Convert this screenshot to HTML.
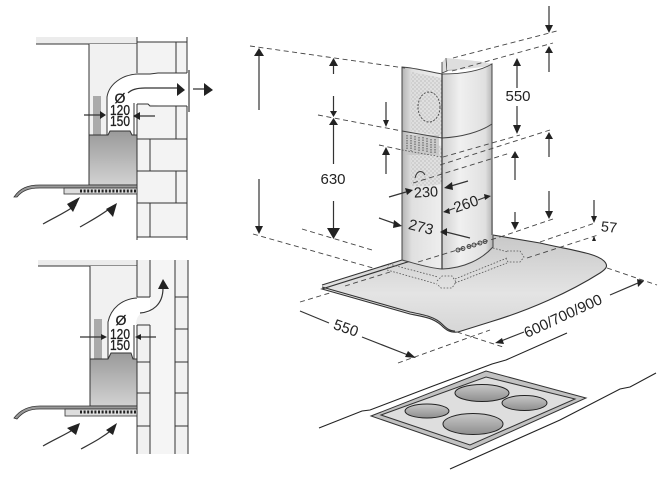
<!DOCTYPE html>
<html><head><meta charset="utf-8">
<style>
html,body{margin:0;padding:0;background:#fff}
svg{display:block;filter:blur(.3px)}
text{font-family:"Liberation Sans",sans-serif;fill:#222;text-anchor:middle}
.l{fill:none;stroke:#333;stroke-width:1}
.d{fill:none;stroke:#444;stroke-width:.9;stroke-dasharray:5 3.5}
.o{fill:none;stroke:#555;stroke-width:.8;stroke-dasharray:1.6 1.6}
.a{fill:none;stroke:#333;stroke-width:1.2}
.h{fill:#222}
.b{stroke:#222;stroke-width:.3}
</style></head>
<body>
<svg width="669" height="484" viewBox="0 0 669 484" xmlns="http://www.w3.org/2000/svg">
<defs>
<linearGradient id="hood" x1="0" y1="0" x2="0" y2="1"><stop offset="0" stop-color="#9a9a9a"/><stop offset="1" stop-color="#d2d2d2"/></linearGradient>
<linearGradient id="lf" x1="0" y1="0" x2="1" y2="0"><stop offset="0" stop-color="#b4b4b4"/><stop offset=".25" stop-color="#e0e0e0"/><stop offset="1" stop-color="#eeeeee"/></linearGradient>
<linearGradient id="rf" x1="0" y1="0" x2="1" y2="0"><stop offset="0" stop-color="#d0d0d0"/><stop offset=".35" stop-color="#f0f0f0"/><stop offset=".85" stop-color="#e0e0e0"/><stop offset="1" stop-color="#b0b0b0"/></linearGradient>
<linearGradient id="can" x1="0" y1="0" x2="0" y2="1"><stop offset="0" stop-color="#c8c8c8"/><stop offset=".6" stop-color="#e4e4e4"/><stop offset="1" stop-color="#d6d6d6"/></linearGradient>
<linearGradient id="burn" x1="0" y1="0" x2="0" y2="1"><stop offset="0" stop-color="#c8c8c8"/><stop offset="1" stop-color="#8e8e8e"/></linearGradient>
<pattern id="dots" width="4" height="4" patternUnits="userSpaceOnUse"><rect width="4" height="4" fill="#dedede"/><circle cx="1" cy="1" r=".6" fill="#999"/><circle cx="3" cy="3" r=".6" fill="#a4a4a4"/></pattern>
</defs>
<rect width="669" height="484" fill="#fff"/>

<!-- TOP LEFT -->
<rect x="36" y="37" width="101" height="7" fill="#ececec"/>
<line class="l" x1="36" y1="44" x2="137" y2="44"/>
<rect x="89" y="44" width="48" height="91" fill="#f1f1f1"/>
<rect x="137" y="42" width="50" height="195" fill="#f3f3f3"/>
<path d="M107 135V97C109 84 122 75 137 74L160 73H187V106H163L148 104H137V135Z" fill="#fff"/>
<path class="l" d="M89 44V135M137 37V73M137 104V240M187 37V73M187 106V240M137 42H187M176 42V73M176 106V139M137 139H187M150 139V171M137 171H187M176 171V203M137 203H187M150 203V237M137 237H187"/>
<path class="l" stroke="#555" d="M107 135V97C109 84 122 75 137 74L150 74 158 73H187M137 104H148L150 106 163 106H187M134 103V135"/>
<rect x="93" y="96" width="8" height="39" fill="#aaa"/>
<path d="M89 135H108L110 131H130L132 135H137V185H89Z" fill="url(#hood)" stroke="#333"/>
<path d="M14 197C20 188 28 185 40 185H137V188H40C28 188 22 191 17 197Z" fill="#999" stroke="#333" stroke-width=".8"/>
<rect x="64" y="188" width="73" height="6" fill="#ddd" stroke="#333" stroke-width=".8"/>
<line x1="80" y1="191" x2="136" y2="191" stroke="#222" stroke-width="3" stroke-dasharray="2 1.6"/>
<rect x="188" y="70" width="2" height="42" fill="#888"/>
<path class="a" d="M128 93C132 89 138 88 145 88H178M193 89H205M84 115H100M155 116H137M43 224C55 217 65 213 76 205M80 227C92 220 102 215 113 206"/>
<path class="h" d="M177 83L185 90 177 96ZM204 83L213 90 204 96ZM100 111L106 115 100 119ZM140 112L133 116 140 120ZM80 197L73 212 67 204ZM117 203L113 217 106 209Z"/>
<text class="b" x="120" y="103" font-size="14">Ø</text>
<text class="b" x="120" y="115" font-size="14.500" textLength="20" lengthAdjust="spacingAndGlyphs">120</text>
<text class="b" x="120" y="126" font-size="14.500" textLength="20" lengthAdjust="spacingAndGlyphs">150</text>

<!-- BOTTOM LEFT -->
<rect x="38" y="260" width="99" height="6" fill="#ececec"/>
<line class="l" x1="38" y1="266" x2="137" y2="266"/>
<rect x="90" y="266" width="47" height="93" fill="#f1f1f1"/>
<rect x="137" y="260" width="13" height="194" fill="#f1f1f1"/>
<rect x="150" y="260" width="25" height="194" fill="#f5f5f5"/>
<rect x="175" y="260" width="13" height="194" fill="#f1f1f1"/>
<path d="M108 359V322C111 308 122 299 137 298H150V313H144C138 313 136 320 136 325V359Z" fill="#fff"/>
<path class="l" d="M90 266V359M137 260V297M150 260V297M137 325V454M150 325V454M175 260V454M188 260V454M137 297H150M137 325H150M137 362H150M137 393H150M137 426H150M175 297H188M175 329H188M175 362H188M175 393H188M175 426H188"/>
<path class="l" stroke="#555" d="M108 359V322C111 308 122 299 137 298M134 325V359"/>
<rect x="94" y="319" width="8" height="40" fill="#aaa"/>
<path d="M90 359H108L111 353H131L133 359H137V406H90Z" fill="url(#hood)" stroke="#333"/>
<path d="M14 418C20 410 28 406 40 406H137V409H40C28 409 22 413 17 419Z" fill="#999" stroke="#333" stroke-width=".8"/>
<rect x="65" y="409" width="72" height="7" fill="#ddd" stroke="#333" stroke-width=".8"/>
<line x1="80" y1="412" x2="136" y2="412" stroke="#222" stroke-width="3" stroke-dasharray="2 1.6"/>
<path class="a" d="M140 313C152 312 163 305 163 288M80 337H102M156 337H140M43 446C55 439 65 435 76 428M81 449C92 443 102 438 113 429"/>
<path class="h" d="M158 289L163 279 169 289ZM101 334L107 337 101 340ZM141 334L135 337 141 340ZM80 423L76 435 67 428ZM117 423L113 435 106 430Z"/>
<text class="b" x="121" y="325" font-size="14">Ø</text>
<text class="b" x="120" y="339" font-size="14.500" textLength="20" lengthAdjust="spacingAndGlyphs">120</text>
<text class="b" x="120" y="350" font-size="14.500" textLength="20" lengthAdjust="spacingAndGlyphs">150</text>

<!-- CANOPY -->
<path d="M322 285L402 260 442 269C465 268 482 259 493 235L540 243C570 250 596 253 604 261C609 266 606 269 600 273C570 292 530 310 490 322L458 332C450 333 446 330 441 325C433 318 425 317 410 314L322 289Z" fill="url(#can)"/>
<path d="M322 285L402 260M493 235L540 243C570 250 596 253 604 261C609 266 606 269 600 273C570 292 530 310 490 322L458 332C450 333 446 330 441 325C433 318 425 317 410 314L322 289ZM322 287L410 312C425 315 435 317 442 324C447 329 450 331 455 331" fill="none" stroke="#333" stroke-width="1.1"/>
<path class="o" d="M389 264L387 270 437 284M389 264L438 277M437 281L442 276H452L456 282 452 288H441L437 284M455 283L507 263M455 279L507 258M493 248L508 252M507 251H520L524 257 520 262H508L505 257"/>

<!-- COLUMN -->
<path d="M402 67C416 68 430 72 442 74V269C428 268 414 263 402 260Z" fill="url(#lf)"/>
<path d="M442 74C462 74 480 71 492 64L493 247C482 259 465 268 442 269Z" fill="url(#rf)"/>
<path d="M446 58L447 71 442 73V62M447 70C465 69 480 66 492 64" fill="#ddd" stroke="#444" stroke-width=".9"/>
<path d="M447 58C465 60 482 61 492 64L490 66C475 68 460 70 447 70Z" fill="#dedede"/>
<path d="M411 72L442 78V136L411 131ZM411 140L442 146V184C432 186 420 186 411 186Z" fill="url(#dots)" opacity=".85"/>
<rect x="406" y="135" width="33" height="20" fill="#c4c4c4" opacity=".8"/>
<path d="M407 135V150M411 135V151M415 136V151M419 137V152M423 137V152M427 138V153M431 139V154M435 139V154" stroke="#555" stroke-width="1" stroke-dasharray="1.5 1"/>
<ellipse cx="429" cy="107" rx="11" ry="15" fill="none" stroke="#555" stroke-dasharray="2 1.5"/>
<path d="M415 178C417 170 422 170 425 175" fill="none" stroke="#333"/>
<path d="M402 260V67C416 68 430 72 442 74V269M442 74C462 74 480 71 492 64V235M493 235V247C482 259 465 268 442 269C428 268 414 263 402 260M402 131L442 138C462 137 480 132 492 124" fill="none" stroke="#444" stroke-width="1"/>
<path d="M442 74V269" stroke="#333" stroke-width="1.2"/>
<g fill="#bbb" stroke="#333" stroke-width=".8"><circle cx="458" cy="250" r="2"/><circle cx="463" cy="248.500" r="2"/><circle cx="469" cy="246.500" r="2"/><circle cx="474" cy="245" r="2"/><circle cx="480" cy="243" r="2"/><circle cx="485" cy="241.500" r="2"/></g>

<!-- DASHED -->
<path class="d" d="M250 46L405 68M318 115L402 131M379 145L402 150M253 234L373 268M302 229L372 250M453 58L557 31M452 71L553 43M443 157L520 135M440 165L550 130M413 183L510 153M500 237L553 219M418 262L500 237M345 286L390 272M300 302L333 292M527 258L598 235M540 242L595 223M607 268L657 285M457 332L503 347M398 363L490 330"/>
<path class="o" d="M402 150L442 157"/>

<!-- ARROWS -->
<path class="a" d="M259 56V110M259 179V226M333.500 65V74M333.500 96V112M333.500 125V164M333.500 201V228M386 102V122M386 155V174M517 65V88M517 106V126M549 6V26M549 53V72M549 139V157M549 191V212M515 158V180M515 212V223M389 197L406 192M468 181L451 186M455 208L447 211M478 200L486 197M379 218L396 224M470 238L446 232M594 200V217M594 237V241M300 311L329 323M362 337L408 355M524 332L501 341M610 295L638 283"/>
<path class="h" d="M254 56L259 48 264 56ZM255 226H263L259 234ZM329 66L333.500 58 338 66ZM330 111H337L333.500 117ZM329 125L333.500 118 338 125ZM327 228H340L333.500 239ZM383 120H389L386 127ZM382 155L386 147 390 155ZM513 66L517 58 521 66ZM513 125H521L517 134ZM545 25H553L549 33ZM545 53L549 46 553 53ZM545 139L549 132 553 139ZM545 211H553L549 219ZM511 158L515 151 519 158ZM511 222H519L515 230ZM405 188L413 190 407 195ZM452 182L444 188 453 190ZM449 208L443 212 450 214ZM484 194L491 196 485 200ZM394 220L402 226 393 228ZM447 228L440 232 447 236ZM591 216H597L594 223ZM592 241L594 236 596 241ZM408 351L416 358 405 357ZM502 338L495 343 504 344ZM637 279L644 281 638 287Z"/>

<text x="333" y="184" font-size="15">630</text>
<text x="518" y="101" font-size="15">550</text>
<text x="426" y="197" font-size="14.500" transform="rotate(-3 426 192)">230</text>
<text x="466" y="209" font-size="15" transform="rotate(-19 466 204)">260</text>
<text x="421" y="232" font-size="15" transform="rotate(14 421 227)">273</text>
<text x="609" y="232" font-size="14.500" transform="rotate(6 609 227)">57</text>
<text x="346" y="333" font-size="15" transform="rotate(19 346 328)">550</text>
<text x="563" y="321" font-size="15" textLength="84" lengthAdjust="spacingAndGlyphs" transform="rotate(-24.700 563 316)">600/700/900</text>

<!-- COUNTER + HOB -->
<path d="M319 428L362 411 370 410 433 386 492 364 506 360 567 333M450 469L560 420 620 389 630 387 656 373" fill="none" stroke="#222" stroke-width="1.100"/>
<path d="M371 416L486 371 586 398 470 450Z" fill="#c2c2c2" stroke="#333"/>
<path d="M381 415L486 377 575 399 470 445Z" fill="#dedede" stroke="#333"/>
<g fill="url(#burn)" stroke="#222" stroke-width="1">
<ellipse cx="482" cy="393" rx="27" ry="8.500"/>
<ellipse cx="524.500" cy="403" rx="22.500" ry="7.500"/>
<ellipse cx="427" cy="411" rx="22" ry="7"/>
<ellipse cx="473" cy="424" rx="30" ry="10.500"/>
</g>
</svg>
</body></html>
